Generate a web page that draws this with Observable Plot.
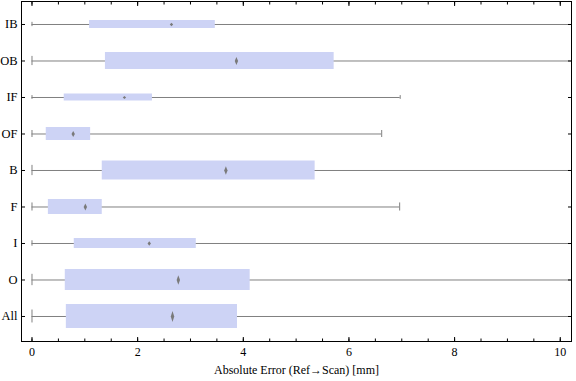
<!DOCTYPE html>
<html>
<head>
<meta charset="utf-8">
<script src="https://cdn.jsdelivr.net/npm/d3@7"></script>
<script src="https://cdn.jsdelivr.net/npm/@observablehq/plot@0.6"></script>
<style>
  html, body { margin: 0; padding: 0; background: #fff; }
  #chart svg { display: block; }
</style>
</head>
<body>
<div id="chart"></div>
<script>
// ---- data ----
const categories = ["IB", "OB", "IF", "OF", "B", "F", "I", "O", "All"];
const minVals    = [0, 0, 0, 0, 0, 0, 0, 0, 0];
const q1Vals     = [1.09, 1.39, 0.61, 0.27, 1.33, 0.31, 0.80, 0.63, 0.65];
const medianVals = [2.64, 3.87, 1.75, 0.78, 3.67, 1.01, 2.22, 2.77, 2.66];
const q3Vals     = [3.47, 5.72, 2.28, 1.11, 5.36, 1.33, 3.11, 4.13, 3.89];
const maxVals    = [11.5, 12.5, 6.97, 6.62, 12.5, 6.96, 11.5, 12.5, 12.5]; // >10 ones are off-chart estimates
const counts     = [64, 289, 49, 169, 361, 225, 100, 441, 576];         // box thickness ~ sqrt(count)
const xTicksMajor = [0, 2, 4, 6, 8, 10];
const xTicksMinor = d3.range(0, 10.01, 0.5);
const xLabel = "Absolute Error (Ref\u2192Scan) [mm]";

// ---- layout/style ----
const W = 576, H = 381;
const mTop = 1, mBottom = 40, mLeft = 21, mRight = 5;
const rowPx = 36.5;                 // pixel distance between rows
const yDomain = [-0.63, 8.685];
const font = "'Liberation Serif', 'Times New Roman', serif";
const boxColor = "#cdd3f5";
const whiskerColor = "#808080";

const rows = categories.map((c, i) => {
  const t = Math.sqrt(counts[i]) / rowPx;   // thickness in row units
  return {
    cat: c, idx: i,
    min: minVals[i], q1: q1Vals[i], med: medianVals[i], q3: q3Vals[i], max: maxVals[i],
    t, capHalf: t * 0.27, diamondR: Math.sqrt(counts[i]) * 0.23
  };
});

// elongated diamond symbol for the median
const diamond = {
  draw(context, size) {
    const r = Math.sqrt(size / Math.PI);
    const w = 1.7;
    context.moveTo(0, -r);
    context.lineTo(w, 0);
    context.lineTo(0, r);
    context.lineTo(-w, 0);
    context.closePath();
  }
};

const chart = Plot.plot({
  width: W, height: H,
  marginTop: mTop, marginBottom: mBottom, marginLeft: mLeft, marginRight: mRight,
  style: { fontFamily: font, fontSize: "12px", background: "#fff", color: "#000" },
  x: { domain: [-0.1987, 10.2129] },
  y: { domain: yDomain, reverse: true },
  r: { type: "identity" },
  marks: [
    // whisker line
    Plot.ruleY(rows, { y: "idx", x1: "min", x2: "max", stroke: whiskerColor, strokeWidth: 1, clip: true }),
    // whisker caps
    Plot.ruleX(rows, { x: "min", y1: d => d.idx - d.capHalf, y2: d => d.idx + d.capHalf, stroke: whiskerColor, strokeWidth: 1, clip: true }),
    Plot.ruleX(rows, { x: "max", y1: d => d.idx - d.capHalf, y2: d => d.idx + d.capHalf, stroke: whiskerColor, strokeWidth: 1, clip: true }),
    // boxes
    Plot.rect(rows, { x1: "q1", x2: "q3", y1: d => d.idx - d.t / 2, y2: d => d.idx + d.t / 2, fill: boxColor }),
    // medians
    Plot.dot(rows, { x: "med", y: "idx", r: "diamondR", symbol: diamond, fill: "#7a7a7a", stroke: "none" }),
    // frame
    Plot.frame({ stroke: "#000", strokeWidth: 1 }),
    // bottom axis: labels
    Plot.axisX(xTicksMajor, { anchor: "bottom", tickSize: 0, tickPadding: 6, label: null, fontSize: 12 }),
    // bottom ticks (inward)
    Plot.axisX(xTicksMajor, { anchor: "bottom", tickSize: -4, tickFormat: () => "", label: null }),
    Plot.axisX(xTicksMinor, { anchor: "bottom", tickSize: -2.5, tickFormat: () => "", label: null }),
    // top ticks (inward)
    Plot.axisX(xTicksMajor, { anchor: "top", tickSize: -4, tickFormat: () => "", label: null }),
    Plot.axisX(xTicksMinor, { anchor: "top", tickSize: -2.5, tickFormat: () => "", label: null }),
    // y axis labels
    Plot.axisY(d3.range(categories.length), { anchor: "left", tickSize: 0, tickPadding: 4, tickFormat: i => categories[i], label: null, fontSize: 12.5 }),
    Plot.axisY(d3.range(categories.length), { anchor: "left", tickSize: -4, tickFormat: () => "", label: null }),
    Plot.axisY(d3.range(categories.length), { anchor: "right", tickSize: -4, tickFormat: () => "", label: null }),
    // x-axis title
    Plot.text([xLabel], { frameAnchor: "bottom", dy: 29, text: d => d, fontSize: 12, lineAnchor: "middle" })
  ]
});

document.getElementById("chart").appendChild(chart);
</script>
</body>
</html>
